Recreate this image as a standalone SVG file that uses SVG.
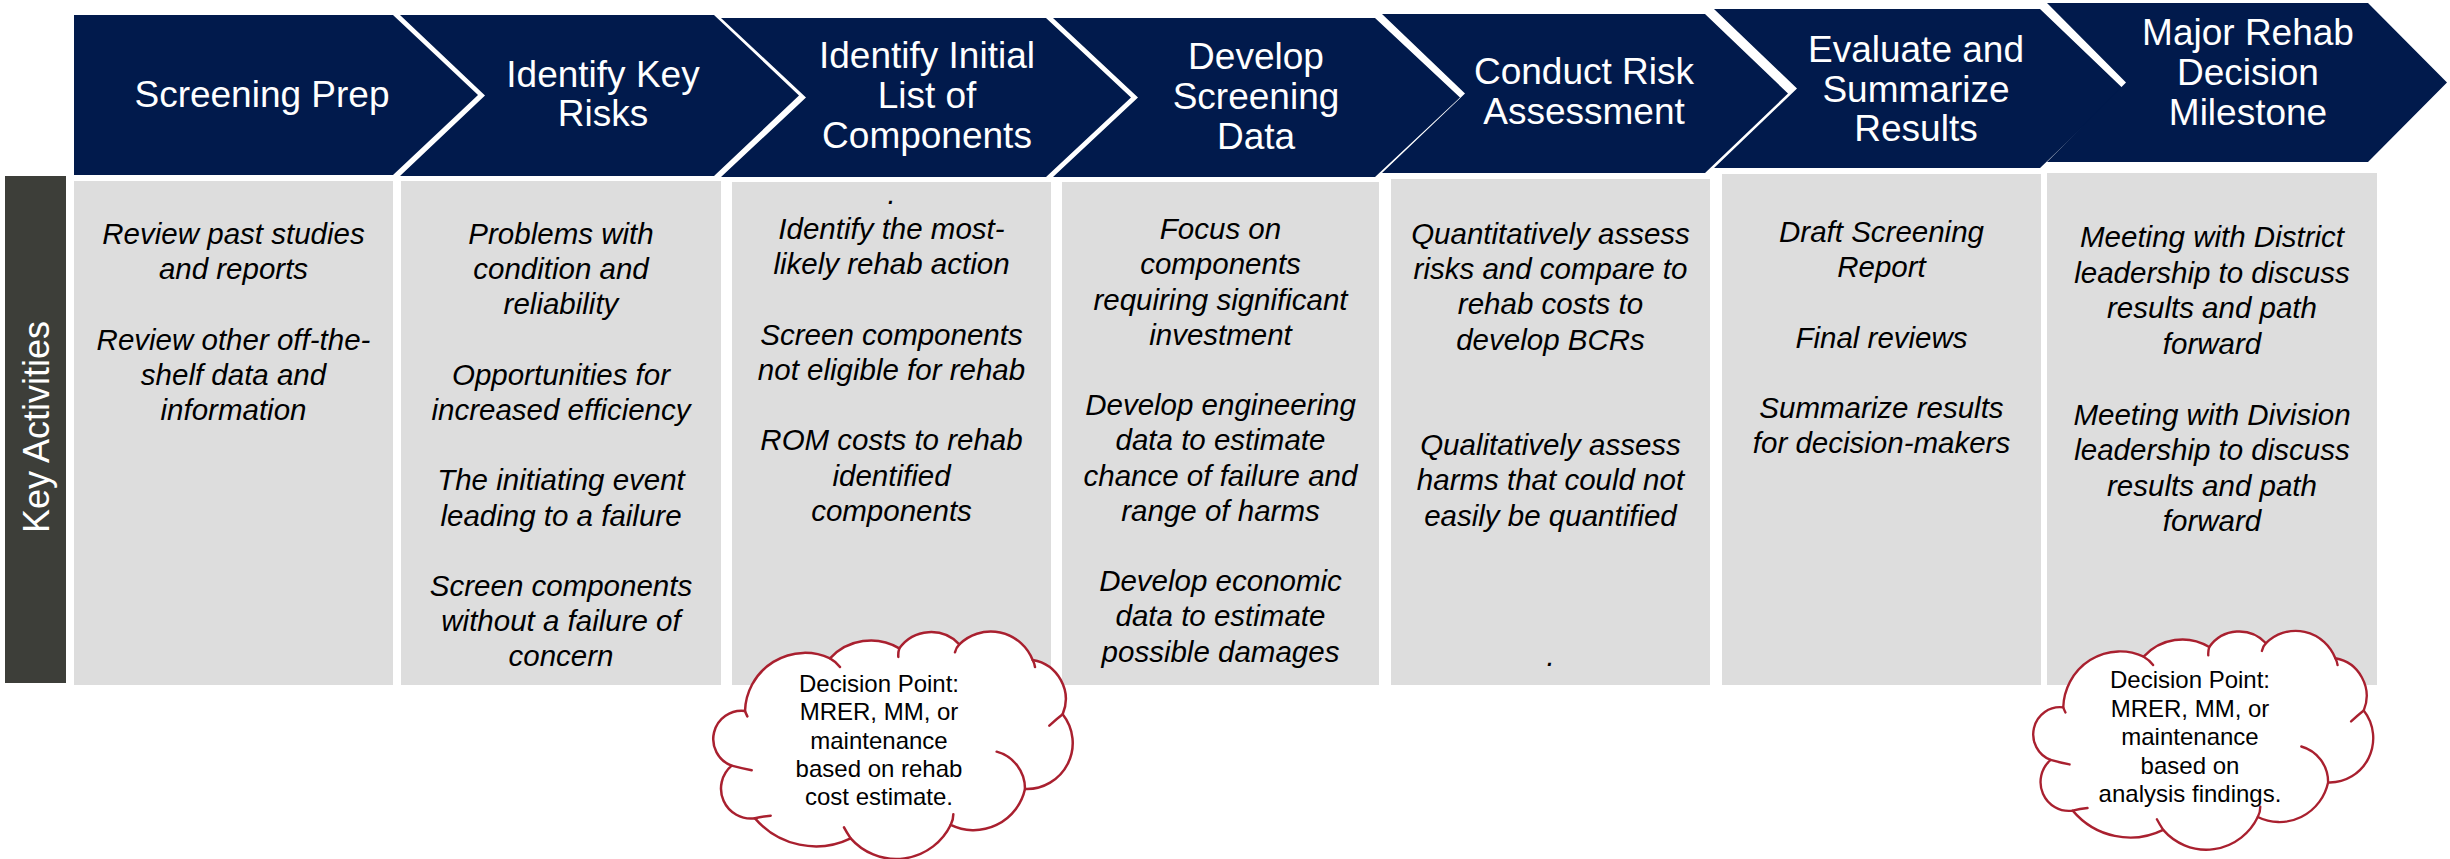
<svg xmlns="http://www.w3.org/2000/svg" width="2450" height="859" viewBox="0 0 2450 859">
<style>
.chev{fill:#011a4c}
.ct{font-family:"Liberation Sans",Arial,sans-serif;font-size:37px;fill:#fff;text-anchor:middle}
.box{fill:#dddddd}
.bt{font-family:"Liberation Sans",Arial,sans-serif;font-size:29.5px;font-style:italic;fill:#000;text-anchor:middle}
.cloud{fill:#fff;stroke:#a9202f;stroke-width:7.5;stroke-linejoin:round}
.cin{fill:none;stroke:#a9202f;stroke-width:7.5;stroke-linecap:round}
.cl{font-family:"Liberation Sans",Arial,sans-serif;font-size:24px;fill:#000;text-anchor:middle}
.side{fill:#3d3e39}
.sidet{font-family:"Liberation Sans",Arial,sans-serif;font-size:36px;fill:#fff;text-anchor:middle}
</style>
<defs>
<path id="cloudShape" d="M135 258 A180 180 0 0 1 390 100 A167 167 0 0 1 598 70 A117 117 0 0 1 778 58 A135 135 0 0 1 998 105 A119 119 0 0 1 1088 268 A138 138 0 0 1 975 492 A158 158 0 0 1 752 600 A182 182 0 0 1 452 640 A240 240 0 0 1 165 580 A90 90 0 0 1 95 422 A85 85 0 0 1 135 258 Z"/>
<path id="cloudInner" d="M135 258 Q138 266 142 274 M390 100 Q408 110 420 126 M598 70 Q594 82 595 96 M778 58 Q768 68 765 82 M998 105 Q1003 114 1005 126 M1088 268 Q1070 282 1048 302 M890 380 A115 115 0 0 1 975 492 M752 600 Q760 585 760 568 M452 640 Q440 622 432 607 M165 580 Q188 574 212 572 M95 422 Q125 430 155 436"/>
</defs>

<g id="side-label">
<rect class="side" x="5" y="176" width="61" height="507"/>
<text class="sidet" x="49" y="427" transform="rotate(-90 49 427)">Key Activities</text>
</g>

<g id="step1">
<polygon class="chev" points="74,15 393,15 478,95 393,175 74,175"/>
<text class="ct" x="262" y="107">Screening Prep</text>
<rect class="box" x="74" y="181" width="319" height="504"/>
<text class="bt"><tspan x="233.5" y="244">Review past studies</tspan><tspan x="233.5" y="279.2">and reports</tspan><tspan x="233.5" y="349.6">Review other off-the-</tspan><tspan x="233.5" y="384.8">shelf data and</tspan><tspan x="233.5" y="420">information</tspan></text>
</g>

<g id="step2">
<polygon class="chev" points="400,15 714,15 799,95.5 714,176 400,176 485,95.5"/>
<text class="ct"><tspan x="603" y="87">Identify Key</tspan><tspan x="603" y="126">Risks</tspan></text>
<rect class="box" x="401" y="181" width="320" height="504"/>
<text class="bt"><tspan x="561" y="244">Problems with</tspan><tspan x="561" y="279.2">condition and</tspan><tspan x="561" y="314.4">reliability</tspan><tspan x="561" y="384.8">Opportunities for</tspan><tspan x="561" y="420">increased efficiency</tspan><tspan x="561" y="490.4">The initiating event</tspan><tspan x="561" y="525.6">leading to a failure</tspan><tspan x="561" y="596">Screen components</tspan><tspan x="561" y="631.2">without a failure of</tspan><tspan x="561" y="666.4">concern</tspan></text>
</g>

<g id="step3">
<polygon class="chev" points="721,18 1046,18 1131,97.5 1046,177 721,177 806,97.5"/>
<text class="ct"><tspan x="927" y="68">Identify Initial</tspan><tspan x="927" y="108">List of</tspan><tspan x="927" y="148">Components</tspan></text>
<rect class="box" x="732" y="182" width="319" height="503"/>
<text class="bt"><tspan x="891.5" y="204">.</tspan><tspan x="891.5" y="239.2">Identify the most-</tspan><tspan x="891.5" y="274.4">likely rehab action</tspan><tspan x="891.5" y="344.8">Screen components</tspan><tspan x="891.5" y="380">not eligible for rehab</tspan><tspan x="891.5" y="450.4">ROM costs to rehab</tspan><tspan x="891.5" y="485.6">identified</tspan><tspan x="891.5" y="520.8">components</tspan></text>
</g>

<g id="step4">
<polygon class="chev" points="1053,18 1375,18 1460,97.5 1375,177 1053,177 1138,97.5"/>
<text class="ct"><tspan x="1256" y="69">Develop</tspan><tspan x="1256" y="109">Screening</tspan><tspan x="1256" y="149">Data</tspan></text>
<rect class="box" x="1062" y="182" width="317" height="503"/>
<text class="bt"><tspan x="1220.5" y="239.2">Focus on</tspan><tspan x="1220.5" y="274.4">components</tspan><tspan x="1220.5" y="309.6">requiring significant</tspan><tspan x="1220.5" y="344.8">investment</tspan><tspan x="1220.5" y="415.2">Develop engineering</tspan><tspan x="1220.5" y="450.4">data to estimate</tspan><tspan x="1220.5" y="485.6">chance of failure and</tspan><tspan x="1220.5" y="520.8">range of harms</tspan><tspan x="1220.5" y="591.2">Develop economic</tspan><tspan x="1220.5" y="626.4">data to estimate</tspan><tspan x="1220.5" y="661.6">possible damages</tspan></text>
</g>

<g id="step5">
<polygon class="chev" points="1382,14 1705,14 1788,93.5 1705,173 1382,173 1465,93.5"/>
<text class="ct"><tspan x="1584" y="84">Conduct Risk</tspan><tspan x="1584" y="124">Assessment</tspan></text>
<rect class="box" x="1391" y="179" width="319" height="506"/>
<text class="bt"><tspan x="1550.5" y="244">Quantitatively assess</tspan><tspan x="1550.5" y="279.2">risks and compare to</tspan><tspan x="1550.5" y="314.4">rehab costs to</tspan><tspan x="1550.5" y="349.6">develop BCRs</tspan><tspan x="1550.5" y="455.2">Qualitatively assess</tspan><tspan x="1550.5" y="490.4">harms that could not</tspan><tspan x="1550.5" y="525.6">easily be quantified</tspan><tspan x="1550.5" y="666.4">.</tspan></text>
</g>

<g id="step6">
<polygon class="chev" points="1714,9 2040,9 2123,88.5 2040,168 1714,168 1797,88.5"/>
<text class="ct"><tspan x="1916" y="62">Evaluate and</tspan><tspan x="1916" y="102">Summarize</tspan><tspan x="1916" y="141">Results</tspan></text>
<rect class="box" x="1722" y="174" width="319" height="511"/>
<text class="bt"><tspan x="1881.5" y="242">Draft Screening</tspan><tspan x="1881.5" y="277.2">Report</tspan><tspan x="1881.5" y="347.6">Final reviews</tspan><tspan x="1881.5" y="418">Summarize results</tspan><tspan x="1881.5" y="453.2">for decision-makers</tspan></text>
</g>

<g id="step7">
<polygon class="chev" points="2047,3 2368,3 2447,82.5 2368,162 2047,162 2126,82.5"/>
<text class="ct"><tspan x="2248" y="45">Major Rehab</tspan><tspan x="2248" y="85">Decision</tspan><tspan x="2248" y="125">Milestone</tspan></text>
<rect class="box" x="2047" y="173" width="330" height="512"/>
<text class="bt"><tspan x="2212" y="247">Meeting with District</tspan><tspan x="2212" y="282.5">leadership to discuss</tspan><tspan x="2212" y="318">results and path</tspan><tspan x="2212" y="353.5">forward</tspan><tspan x="2212" y="424.5">Meeting with Division</tspan><tspan x="2212" y="460">leadership to discuss</tspan><tspan x="2212" y="495.5">results and path</tspan><tspan x="2212" y="531">forward</tspan></text>
</g>

<g id="decision1">
<g transform="matrix(0.33333 0 0 0.33333 700 625)">
<use href="#cloudShape" class="cloud"/>
<use href="#cloudInner" class="cin"/>
</g>
<text class="cl"><tspan x="879" y="692">Decision Point:</tspan><tspan x="879" y="720.3">MRER, MM, or</tspan><tspan x="879" y="748.6">maintenance</tspan><tspan x="879" y="776.9">based on rehab</tspan><tspan x="879" y="805.2">cost estimate.</tspan></text>
</g>

<g id="decision2">
<g transform="matrix(0.3153 0 0 0.3207 2020.68 624.61)">
<use href="#cloudShape" class="cloud"/>
<use href="#cloudInner" class="cin"/>
</g>
<text class="cl"><tspan x="2190" y="688">Decision Point:</tspan><tspan x="2190" y="716.5">MRER, MM, or</tspan><tspan x="2190" y="745">maintenance</tspan><tspan x="2190" y="773.5">based on</tspan><tspan x="2190" y="802">analysis findings.</tspan></text>
</g>

<g id="connectors"></g>
</svg>
